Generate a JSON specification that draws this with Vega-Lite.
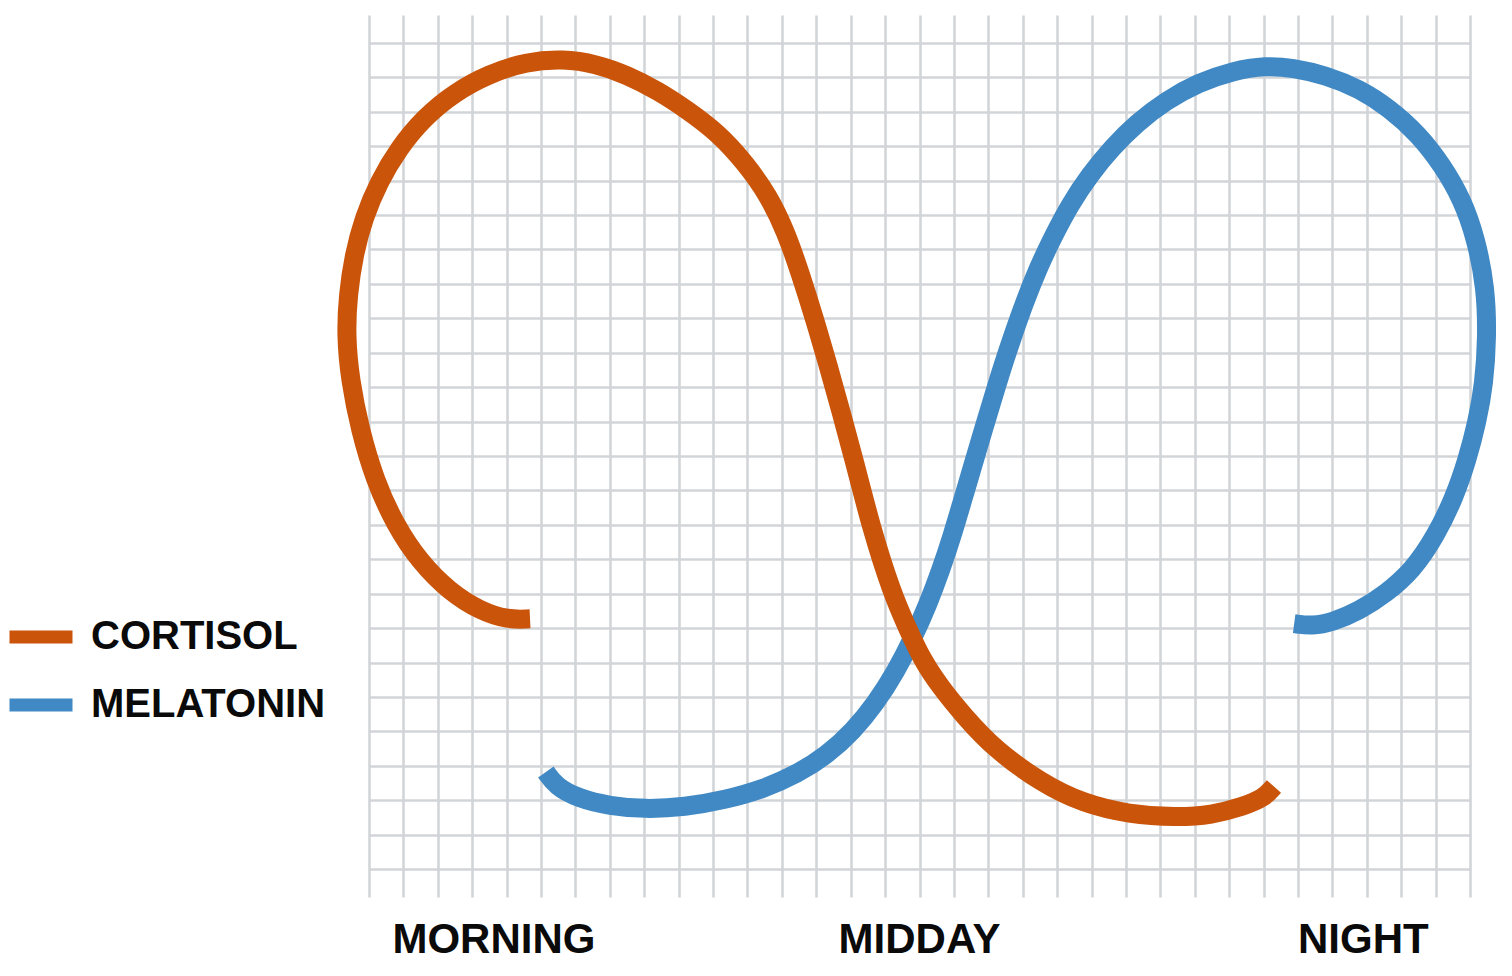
{
  "$schema": "https://vega.github.io/schema/vega-lite/v6.json",
  "autosize": {"type": "none"},
  "padding": {"left": 369, "top": 15, "right": 42, "bottom": 79},
  "width": 1101,
  "height": 882,
  "background": "#ffffff",
  "config": {
    "view": {"stroke": null},
    "font": "Liberation Sans"
  },
  "datasets": {
    "cortisol": [
      {"hormone": "CORTISOL", "i": 1, "x": 4.68, "y": 7.27},
      {"hormone": "CORTISOL", "i": 2, "x": 4.04, "y": 7.24},
      {"hormone": "CORTISOL", "i": 3, "x": 3.23, "y": 7.5},
      {"hormone": "CORTISOL", "i": 4, "x": 2.35, "y": 8.05},
      {"hormone": "CORTISOL", "i": 5, "x": 1.48, "y": 8.92},
      {"hormone": "CORTISOL", "i": 6, "x": 0.76, "y": 10.0},
      {"hormone": "CORTISOL", "i": 7, "x": 0.17, "y": 11.3},
      {"hormone": "CORTISOL", "i": 8, "x": -0.26, "y": 12.76},
      {"hormone": "CORTISOL", "i": 9, "x": -0.55, "y": 14.21},
      {"hormone": "CORTISOL", "i": 10, "x": -0.67, "y": 15.52},
      {"hormone": "CORTISOL", "i": 11, "x": -0.61, "y": 16.68},
      {"hormone": "CORTISOL", "i": 12, "x": -0.44, "y": 17.84},
      {"hormone": "CORTISOL", "i": 13, "x": -0.15, "y": 18.93},
      {"hormone": "CORTISOL", "i": 14, "x": 0.29, "y": 19.97},
      {"hormone": "CORTISOL", "i": 15, "x": 0.87, "y": 20.95},
      {"hormone": "CORTISOL", "i": 16, "x": 1.6, "y": 21.83},
      {"hormone": "CORTISOL", "i": 17, "x": 2.47, "y": 22.55},
      {"hormone": "CORTISOL", "i": 18, "x": 3.49, "y": 23.1},
      {"hormone": "CORTISOL", "i": 19, "x": 4.56, "y": 23.45},
      {"hormone": "CORTISOL", "i": 20, "x": 5.64, "y": 23.54},
      {"hormone": "CORTISOL", "i": 21, "x": 6.6, "y": 23.39},
      {"hormone": "CORTISOL", "i": 22, "x": 7.5, "y": 23.07},
      {"hormone": "CORTISOL", "i": 23, "x": 8.4, "y": 22.61},
      {"hormone": "CORTISOL", "i": 24, "x": 9.24, "y": 22.06},
      {"hormone": "CORTISOL", "i": 25, "x": 10.14, "y": 21.39},
      {"hormone": "CORTISOL", "i": 26, "x": 10.93, "y": 20.52},
      {"hormone": "CORTISOL", "i": 27, "x": 11.6, "y": 19.59},
      {"hormone": "CORTISOL", "i": 28, "x": 12.12, "y": 18.51},
      {"hormone": "CORTISOL", "i": 29, "x": 12.55, "y": 17.26},
      {"hormone": "CORTISOL", "i": 30, "x": 12.96, "y": 15.95},
      {"hormone": "CORTISOL", "i": 31, "x": 13.34, "y": 14.65},
      {"hormone": "CORTISOL", "i": 32, "x": 13.72, "y": 13.28},
      {"hormone": "CORTISOL", "i": 33, "x": 14.1, "y": 11.89},
      {"hormone": "CORTISOL", "i": 34, "x": 14.59, "y": 9.94},
      {"hormone": "CORTISOL", "i": 35, "x": 15.2, "y": 8.02},
      {"hormone": "CORTISOL", "i": 36, "x": 15.65, "y": 7.0},
      {"hormone": "CORTISOL", "i": 37, "x": 16.08, "y": 6.08},
      {"hormone": "CORTISOL", "i": 38, "x": 16.6, "y": 5.3},
      {"hormone": "CORTISOL", "i": 39, "x": 17.3, "y": 4.44},
      {"hormone": "CORTISOL", "i": 40, "x": 18.2, "y": 3.47},
      {"hormone": "CORTISOL", "i": 41, "x": 19.55, "y": 2.5},
      {"hormone": "CORTISOL", "i": 42, "x": 20.75, "y": 1.91},
      {"hormone": "CORTISOL", "i": 43, "x": 22.1, "y": 1.59},
      {"hormone": "CORTISOL", "i": 44, "x": 23.45, "y": 1.5},
      {"hormone": "CORTISOL", "i": 45, "x": 24.5, "y": 1.57},
      {"hormone": "CORTISOL", "i": 46, "x": 25.4, "y": 1.82},
      {"hormone": "CORTISOL", "i": 47, "x": 26.0, "y": 2.06},
      {"hormone": "CORTISOL", "i": 48, "x": 26.3, "y": 2.4}
    ],
    "melatonin": [
      {"hormone": "MELATONIN", "i": 1, "x": 5.14, "y": 2.82},
      {"hormone": "MELATONIN", "i": 2, "x": 5.43, "y": 2.41},
      {"hormone": "MELATONIN", "i": 3, "x": 6.07, "y": 2.06},
      {"hormone": "MELATONIN", "i": 4, "x": 7.0, "y": 1.83},
      {"hormone": "MELATONIN", "i": 5, "x": 8.02, "y": 1.74},
      {"hormone": "MELATONIN", "i": 6, "x": 9.18, "y": 1.8},
      {"hormone": "MELATONIN", "i": 7, "x": 10.35, "y": 2.01},
      {"hormone": "MELATONIN", "i": 8, "x": 11.45, "y": 2.32},
      {"hormone": "MELATONIN", "i": 9, "x": 12.44, "y": 2.76},
      {"hormone": "MELATONIN", "i": 10, "x": 13.31, "y": 3.31},
      {"hormone": "MELATONIN", "i": 11, "x": 14.07, "y": 4.01},
      {"hormone": "MELATONIN", "i": 12, "x": 14.73, "y": 4.82},
      {"hormone": "MELATONIN", "i": 13, "x": 15.32, "y": 5.75},
      {"hormone": "MELATONIN", "i": 14, "x": 15.81, "y": 6.71},
      {"hormone": "MELATONIN", "i": 15, "x": 16.25, "y": 7.7},
      {"hormone": "MELATONIN", "i": 16, "x": 16.62, "y": 8.69},
      {"hormone": "MELATONIN", "i": 17, "x": 16.94, "y": 9.65},
      {"hormone": "MELATONIN", "i": 18, "x": 17.23, "y": 10.64},
      {"hormone": "MELATONIN", "i": 19, "x": 17.52, "y": 11.62},
      {"hormone": "MELATONIN", "i": 20, "x": 17.81, "y": 12.61},
      {"hormone": "MELATONIN", "i": 21, "x": 18.11, "y": 13.6},
      {"hormone": "MELATONIN", "i": 22, "x": 18.4, "y": 14.56},
      {"hormone": "MELATONIN", "i": 23, "x": 18.72, "y": 15.52},
      {"hormone": "MELATONIN", "i": 24, "x": 19.06, "y": 16.48},
      {"hormone": "MELATONIN", "i": 25, "x": 19.44, "y": 17.44},
      {"hormone": "MELATONIN", "i": 26, "x": 19.88, "y": 18.37},
      {"hormone": "MELATONIN", "i": 27, "x": 20.37, "y": 19.3},
      {"hormone": "MELATONIN", "i": 28, "x": 20.95, "y": 20.17},
      {"hormone": "MELATONIN", "i": 29, "x": 21.59, "y": 20.95},
      {"hormone": "MELATONIN", "i": 30, "x": 22.32, "y": 21.68},
      {"hormone": "MELATONIN", "i": 31, "x": 23.16, "y": 22.32},
      {"hormone": "MELATONIN", "i": 32, "x": 24.09, "y": 22.84},
      {"hormone": "MELATONIN", "i": 33, "x": 25.11, "y": 23.19},
      {"hormone": "MELATONIN", "i": 34, "x": 26.07, "y": 23.34},
      {"hormone": "MELATONIN", "i": 35, "x": 26.84, "y": 23.28},
      {"hormone": "MELATONIN", "i": 36, "x": 27.81, "y": 23.06},
      {"hormone": "MELATONIN", "i": 37, "x": 28.78, "y": 22.67},
      {"hormone": "MELATONIN", "i": 38, "x": 29.65, "y": 22.11},
      {"hormone": "MELATONIN", "i": 39, "x": 30.52, "y": 21.33},
      {"hormone": "MELATONIN", "i": 40, "x": 31.2, "y": 20.44},
      {"hormone": "MELATONIN", "i": 41, "x": 31.78, "y": 19.44},
      {"hormone": "MELATONIN", "i": 42, "x": 32.17, "y": 18.33},
      {"hormone": "MELATONIN", "i": 43, "x": 32.46, "y": 16.89},
      {"hormone": "MELATONIN", "i": 44, "x": 32.5, "y": 15.44},
      {"hormone": "MELATONIN", "i": 45, "x": 32.41, "y": 14.11},
      {"hormone": "MELATONIN", "i": 46, "x": 32.21, "y": 13.0},
      {"hormone": "MELATONIN", "i": 47, "x": 31.92, "y": 11.89},
      {"hormone": "MELATONIN", "i": 48, "x": 31.54, "y": 10.78},
      {"hormone": "MELATONIN", "i": 49, "x": 31.0, "y": 9.67},
      {"hormone": "MELATONIN", "i": 50, "x": 30.33, "y": 8.67},
      {"hormone": "MELATONIN", "i": 51, "x": 29.55, "y": 8.0},
      {"hormone": "MELATONIN", "i": 52, "x": 28.78, "y": 7.5},
      {"hormone": "MELATONIN", "i": 53, "x": 28.0, "y": 7.17},
      {"hormone": "MELATONIN", "i": 54, "x": 27.42, "y": 7.06},
      {"hormone": "MELATONIN", "i": 55, "x": 26.89, "y": 7.13}
    ],
    "labels": [
      {"label": "MORNING", "x": 3.63, "y": -2.44},
      {"label": "MIDDAY", "x": 16.0, "y": -2.44},
      {"label": "NIGHT", "x": 28.9, "y": -2.44}
    ]
  },
  "layer": [
    {
      "data": {"name": "melatonin"},
      "mark": {"type": "line", "interpolate": "basis", "strokeWidth": 19, "strokeCap": "butt", "clip": false},
      "encoding": {
        "x": {
          "field": "x", "type": "quantitative",
          "scale": {"domain": [0, 32], "nice": false, "zero": false},
          "axis": {
            "values": [0,1,2,3,4,5,6,7,8,9,10,11,12,13,14,15,16,17,18,19,20,21,22,23,24,25,26,27,28,29,30,31,32],
            "tickCount": 200,
            "grid": true, "gridColor": "#d2d5d8", "gridWidth": 2.6,
            "domain": false, "ticks": false, "labels": false, "title": null
          }
        },
        "y": {
          "field": "y", "type": "quantitative",
          "scale": {"domain": [-0.81, 24.81], "nice": false, "zero": false},
          "axis": {
            "values": [0,1,2,3,4,5,6,7,8,9,10,11,12,13,14,15,16,17,18,19,20,21,22,23,24],
            "tickCount": 200,
            "grid": true, "gridColor": "#d2d5d8", "gridWidth": 2.6,
            "domain": false, "ticks": false, "labels": false, "title": null
          }
        },
        "order": {"field": "i", "type": "quantitative"},
        "color": {
          "field": "hormone", "type": "nominal",
          "scale": {"domain": ["CORTISOL", "MELATONIN"], "range": ["#C9540A", "#4089C4"]},
          "legend": {
            "title": null,
            "orient": "none",
            "legendX": -366,
            "legendY": 584,
            "padding": 0,
            "symbolType": "stroke",
            "symbolSize": 3969,
            "symbolStrokeWidth": 13,
            "labelFont": "Liberation Sans",
            "labelFontSize": 40,
            "labelFontWeight": "bold",
            "labelColor": "#0a0a0a",
            "labelOffset": 12,
            "rowPadding": 4,
            "labelLimit": 400
          }
        }
      }
    },
    {
      "data": {"name": "cortisol"},
      "mark": {"type": "line", "interpolate": "basis", "strokeWidth": 19, "strokeCap": "butt", "clip": false},
      "encoding": {
        "x": {"field": "x", "type": "quantitative"},
        "y": {"field": "y", "type": "quantitative"},
        "order": {"field": "i", "type": "quantitative"},
        "color": {"field": "hormone", "type": "nominal"}
      }
    },
    {
      "data": {"name": "labels"},
      "mark": {"type": "text", "font": "Liberation Sans", "fontWeight": "bold", "fontSize": 42, "align": "center", "baseline": "alphabetic", "color": "#0a0a0a", "clip": false},
      "encoding": {
        "x": {"field": "x", "type": "quantitative"},
        "y": {"field": "y", "type": "quantitative"},
        "text": {"field": "label"}
      }
    }
  ]
}
